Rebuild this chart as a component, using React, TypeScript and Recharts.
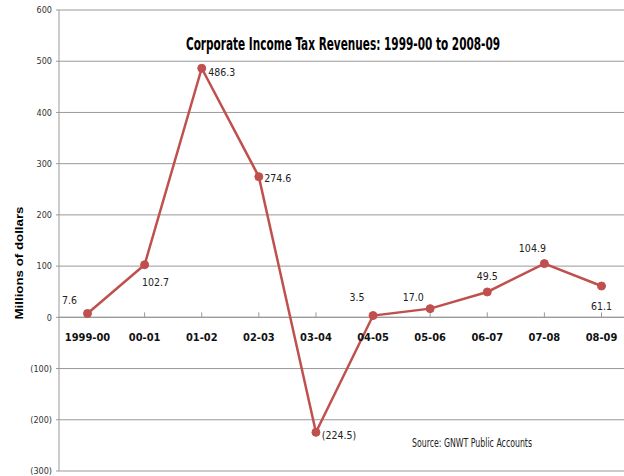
import React, { useLayoutEffect, useRef, useState } from 'react';
import { LineChart, Line, XAxis, YAxis, CartesianGrid, ReferenceLine, ReferenceDot, LabelList } from 'recharts';

const periods = ['1999-00', '00-01', '01-02', '02-03', '03-04', '04-05', '05-06', '06-07', '07-08', '08-09'];
const revenues = [7.6, 102.7, 486.3, 274.6, -224.5, 3.5, 17.0, 49.5, 104.9, 61.1];
const yTicks = [-300, -200, -100, 0, 100, 200, 300, 400, 500, 600];

// where each value label sits relative to its point (dx, dy)
const labelOffsets: [number, number][] = [
  [-18, -13], [11, 17], [20, 4], [19, 1], [23, 3],
  [-16, -19], [-17, -12], [0, -16], [-12, -16], [0, 20],
];

const data = periods.map((period, i) => ({ period, value: revenues[i] }));

const NARROW = '"Liberation Sans Narrow", "DejaVu Sans Condensed", sans-serif';
const RED = '#C0504D';
const GRID = '#999999';
const TITLE = 'Corporate Income Tax Revenues: 1999-00 to 2008-09';

const fmtValue = (v: number) => (v < 0 ? `(${Math.abs(v).toFixed(1)})` : v.toFixed(1));
const fmtTick = (v: number) => (v < 0 ? `(${-v})` : `${v}`);

const ValueLabel = (props: any) => {
  const { x, y, value } = props;
  let i = props.index;
  if (i == null) i = revenues.indexOf(value);
  const [dx, dy] = labelOffsets[i] || [0, -12];
  return (
    <text
      x={x + dx}
      y={y + dy}
      textAnchor="middle"
      dominantBaseline="central"
      fontFamily={NARROW}
      fontSize={10.5}
      fill="#222"
    >
      {fmtValue(value)}
    </text>
  );
};

const categoryMark = (label: string) => (p: any) => (
  <g>
    <line x1={p.cx} y1={p.cy - 5} x2={p.cx} y2={p.cy} stroke={GRID} strokeWidth={1} />
    <text
      x={p.cx}
      y={p.cy + 20}
      textAnchor="middle"
      dominantBaseline="central"
      fontFamily={NARROW}
      fontWeight="bold"
      fontSize={11}
      fill="#111"
    >
      {label}
    </text>
  </g>
);

// title squeezed horizontally to the width it has in the original
const Title = () => {
  const ref = useRef<SVGTextElement>(null);
  const [sx, setSx] = useState(0.7);
  useLayoutEffect(() => {
    if (ref.current) {
      const w = ref.current.getComputedTextLength();
      if (w > 0) setSx(Math.min(1, 314 / w));
    }
  }, []);
  return (
    <text
      ref={ref}
      transform={`translate(343 50) scale(${sx} 1)`}
      textAnchor="middle"
      fontFamily={NARROW}
      fontWeight="bold"
      fontSize={17}
      fill="#000"
    >
      {TITLE}
    </text>
  );
};

export default function App() {
  return (
    <div style={{ position: 'absolute', left: 0, top: 0, width: 624, height: 476, overflow: 'hidden', background: '#fff' }}>
      <LineChart width={632} height={476} data={data} margin={{ top: 10, right: 2, bottom: 5, left: 0 }}>
        <CartesianGrid vertical={false} stroke={GRID} strokeWidth={1} />
        <XAxis dataKey="period" hide padding={{ left: 28.5, right: 28.5 }} />
        <YAxis
          domain={[-300, 600]}
          ticks={yTicks}
          width={59}
          tickFormatter={fmtTick}
          interval={0}
          axisLine={{ stroke: GRID }}
          tickLine={{ stroke: GRID }}
          tickSize={3}
          tickMargin={4}
          tick={{ fontFamily: NARROW, fontSize: 9, fill: '#333' }}
        />
        <ReferenceLine y={0} stroke={GRID} strokeWidth={1.2} />
        {periods.map((p) => (
          <ReferenceDot key={p} x={p} y={0} r={0} shape={categoryMark(p)} />
        ))}
        <Line
          type="linear"
          dataKey="value"
          stroke={RED}
          strokeWidth={2.5}
          dot={{ r: 4, fill: RED, stroke: RED, strokeWidth: 1 }}
          isAnimationActive={false}
        >
          <LabelList dataKey="value" content={ValueLabel} />
        </Line>
      </LineChart>
      <svg width={624} height={476} style={{ position: 'absolute', left: 0, top: 0, pointerEvents: 'none' }}>
        <Title />
        <text
          x={19}
          y={263}
          transform="rotate(-90 19 263)"
          textAnchor="middle"
          dominantBaseline="central"
          fontFamily='"Liberation Sans", Arial, sans-serif'
          fontWeight="bold"
          fontSize={11.5}
          textLength={113}
          lengthAdjust="spacingAndGlyphs"
          fill="#000"
        >
          Millions of dollars
        </text>
        <text
          x={412}
          y={447}
          fontFamily={NARROW}
          fontSize={12}
          textLength={120}
          lengthAdjust="spacingAndGlyphs"
          fill="#222"
        >
          Source: GNWT Public Accounts
        </text>
      </svg>
    </div>
  );
}
